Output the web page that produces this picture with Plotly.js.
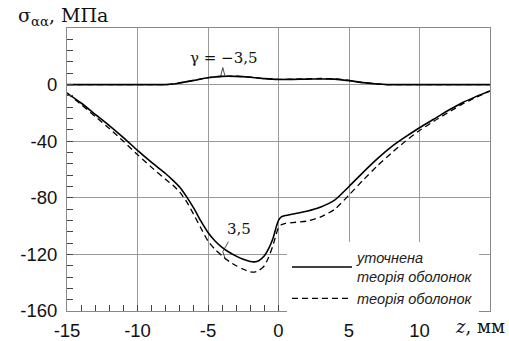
<!DOCTYPE html>
<html>
<head>
<meta charset="utf-8">
<script src="https://cdn.plot.ly/plotly-3.0.1.min.js"></script>
<style>html,body{margin:0;padding:0;background:#fff;}#chart{width:509px;height:341px;}</style>
</head>
<body>
<div id="chart"></div>
<script>
// z coordinate, mm
var zMain = [-15,-14,-13,-12,-11,-10,-9,-8,-7.5,-7,-6.5,-6,-5.5,-5,-4.5,-4,-3.5,-3,-2.5,-2,-1.7,-1.4,-1,-0.7,-0.4,-0.2,0,0.2,0.5,1,2,3,4,5,6,7,8,9,10,11,12,13,14,15];
// γ = 3,5 — refined shell theory (solid)
var refinedMain = [-6,-13,-21,-29,-37.5,-46.5,-55,-63,-67.5,-72.5,-79.5,-87.5,-96.5,-104.5,-110.5,-115,-118.5,-121.2,-123.5,-125,-125.3,-124.5,-121,-116,-109,-102,-96,-93.5,-92.5,-91.5,-89.5,-86.5,-81.5,-72,-62,-52.5,-44,-37,-30.5,-24.5,-18.5,-13,-8.5,-4.5];
// γ = 3,5 — classical shell theory (dashed)
var classicMain = [-6,-14,-22.5,-31,-40,-49.5,-58.5,-67,-71,-76,-83,-92,-101.5,-110.5,-116.5,-121,-125,-128,-130.5,-132.3,-132.5,-131.5,-128,-122,-114,-107,-101,-99,-98,-97.5,-96.5,-93.5,-88,-78,-67.5,-57.5,-48.5,-40,-32.5,-26,-20,-14,-9,-4.5];

var zUpper = [-15,-12,-9,-8,-7.5,-7,-6,-5,-4,-3,-2,-1,0,1,2,3,4,5,6,7,7.7,9,12,15];
// γ = −3,5
var refinedUpper = [0,0,0,0,0.4,1.2,3,4.8,5.8,5.8,5.2,4.2,3.6,3.7,3.9,4.0,3.9,2.8,1.4,0.4,0,0,0,0];
var classicUpper = [0,0,0,0,0.4,1.2,3,4.9,5.9,5.9,5.3,4.3,3.7,3.8,4.1,4.3,4.1,3.0,1.5,0.5,0,0,0,0];

var xTickVals = [-15,-10,-5,0,5,10];
var xTickText = ['-15','-10','-5','0','5','10'];
var yTickVals = [-160,-120,-80,-40,0];
var yTickText = ['-160','-120','-80','-40','0'];

var legRefined = 'уточнена<br>теорія оболонок';
var legClassic = 'теорія оболонок';
var labelUpper = 'γ = −3,5';
var labelMain = '3,5';
var yTitle = 'σ<sub>αα</sub>, МПа';
var xTitle = '<i>z</i>, мм';

var traces = [
  {x: zMain, y: refinedMain, type:'scatter', mode:'lines', name: legRefined,
   line:{color:'#000', width:1.6, shape:'spline', smoothing:0.6}},
  {x: zMain, y: classicMain, type:'scatter', mode:'lines', name: legClassic,
   line:{color:'#000', width:1.3, dash:'6px,4px', shape:'spline', smoothing:0.6}},
  {x: zUpper, y: classicUpper, type:'scatter', mode:'lines', showlegend:false,
   line:{color:'#000', width:1.3, dash:'6px,4px', shape:'spline', smoothing:0.6}},
  {x: zUpper, y: refinedUpper, type:'scatter', mode:'lines', showlegend:false,
   line:{color:'#000', width:1.6, shape:'spline', smoothing:0.6}}
];

var grid = '#9a9a9a';
var tickFont = {family:'Liberation Sans, Arial, sans-serif', size:18.5, color:'#111'};
var layout = {
  width:509, height:341,
  margin:{l:67, r:19, t:28, b:30},
  paper_bgcolor:'#fff', plot_bgcolor:'#fff',
  showlegend:true,
  legend:{x:0.52, y:0.245, xanchor:'left', yanchor:'top', bgcolor:'#fff', borderwidth:0,
    font:{family:'Liberation Sans, Arial, sans-serif', size:14.5, color:'#222', style:'italic'},
    itemwidth:60, tracegroupgap:0},
  xaxis:{range:[-15,15], tickmode:'array', tickvals:xTickVals, ticktext:xTickText,
    showgrid:true, gridcolor:grid, gridwidth:1, zeroline:false,
    showline:true, linecolor:'#888', linewidth:1, mirror:true,
    ticks:'inside', ticklen:6, tickcolor:'#444', tickwidth:1, ticklabelstandoff:3, tickfont:tickFont,
    minor:{dtick:1, tick0:0, ticks:'inside', ticklen:6, tickcolor:'#444', tickwidth:1, showgrid:false}},
  yaxis:{range:[-160,40], tickmode:'array', tickvals:yTickVals, ticktext:yTickText,
    showgrid:true, gridcolor:grid, gridwidth:1, zeroline:false,
    showline:true, linecolor:'#888', linewidth:1, mirror:true,
    ticks:'inside', ticklen:6, tickcolor:'#444', tickwidth:1, ticklabelstandoff:5, tickfont:tickFont,
    minor:{dtick:8, tick0:0, ticks:'inside', ticklen:6, tickcolor:'#444', tickwidth:1, showgrid:false}},
  annotations:[
    {xref:'paper', yref:'paper', x:-0.12, y:1.0, xanchor:'left', yanchor:'bottom', yshift:-3,
     showarrow:false, text:yTitle,
     font:{family:'DejaVu Serif, serif', size:19, color:'#111'}},
    {xref:'paper', yref:'paper', x:1.04, y:0, xanchor:'right', yanchor:'top', yshift:-3,
     showarrow:false, text:xTitle,
     font:{family:'DejaVu Serif, serif', size:18, color:'#111'}},
    {xref:'x', yref:'y', x:-3.9, y:11, xanchor:'center', yanchor:'bottom',
     showarrow:false, text:labelUpper,
     font:{family:'DejaVu Serif, serif', size:15, color:'#111'}},
    {xref:'x', yref:'y', x:-2.8, y:-110, xanchor:'center', yanchor:'bottom',
     showarrow:false, text:labelMain,
     font:{family:'DejaVu Serif, serif', size:15, color:'#111'}}
  ],
  shapes:[
    {type:'path', xref:'x', yref:'y', path:'M -4.1,6.2 L -3.95,12 L -3.8,6.2', line:{color:'#222', width:0.8}},
    {type:'path', xref:'x', yref:'y', path:'M -3.55,-111 L -3.95,-118 L -3.75,-124', line:{color:'#222', width:0.8}}
  ]
};

Plotly.newPlot('chart', traces, layout, {displayModeBar:false, staticPlot:true});
</script>
</body>
</html>
